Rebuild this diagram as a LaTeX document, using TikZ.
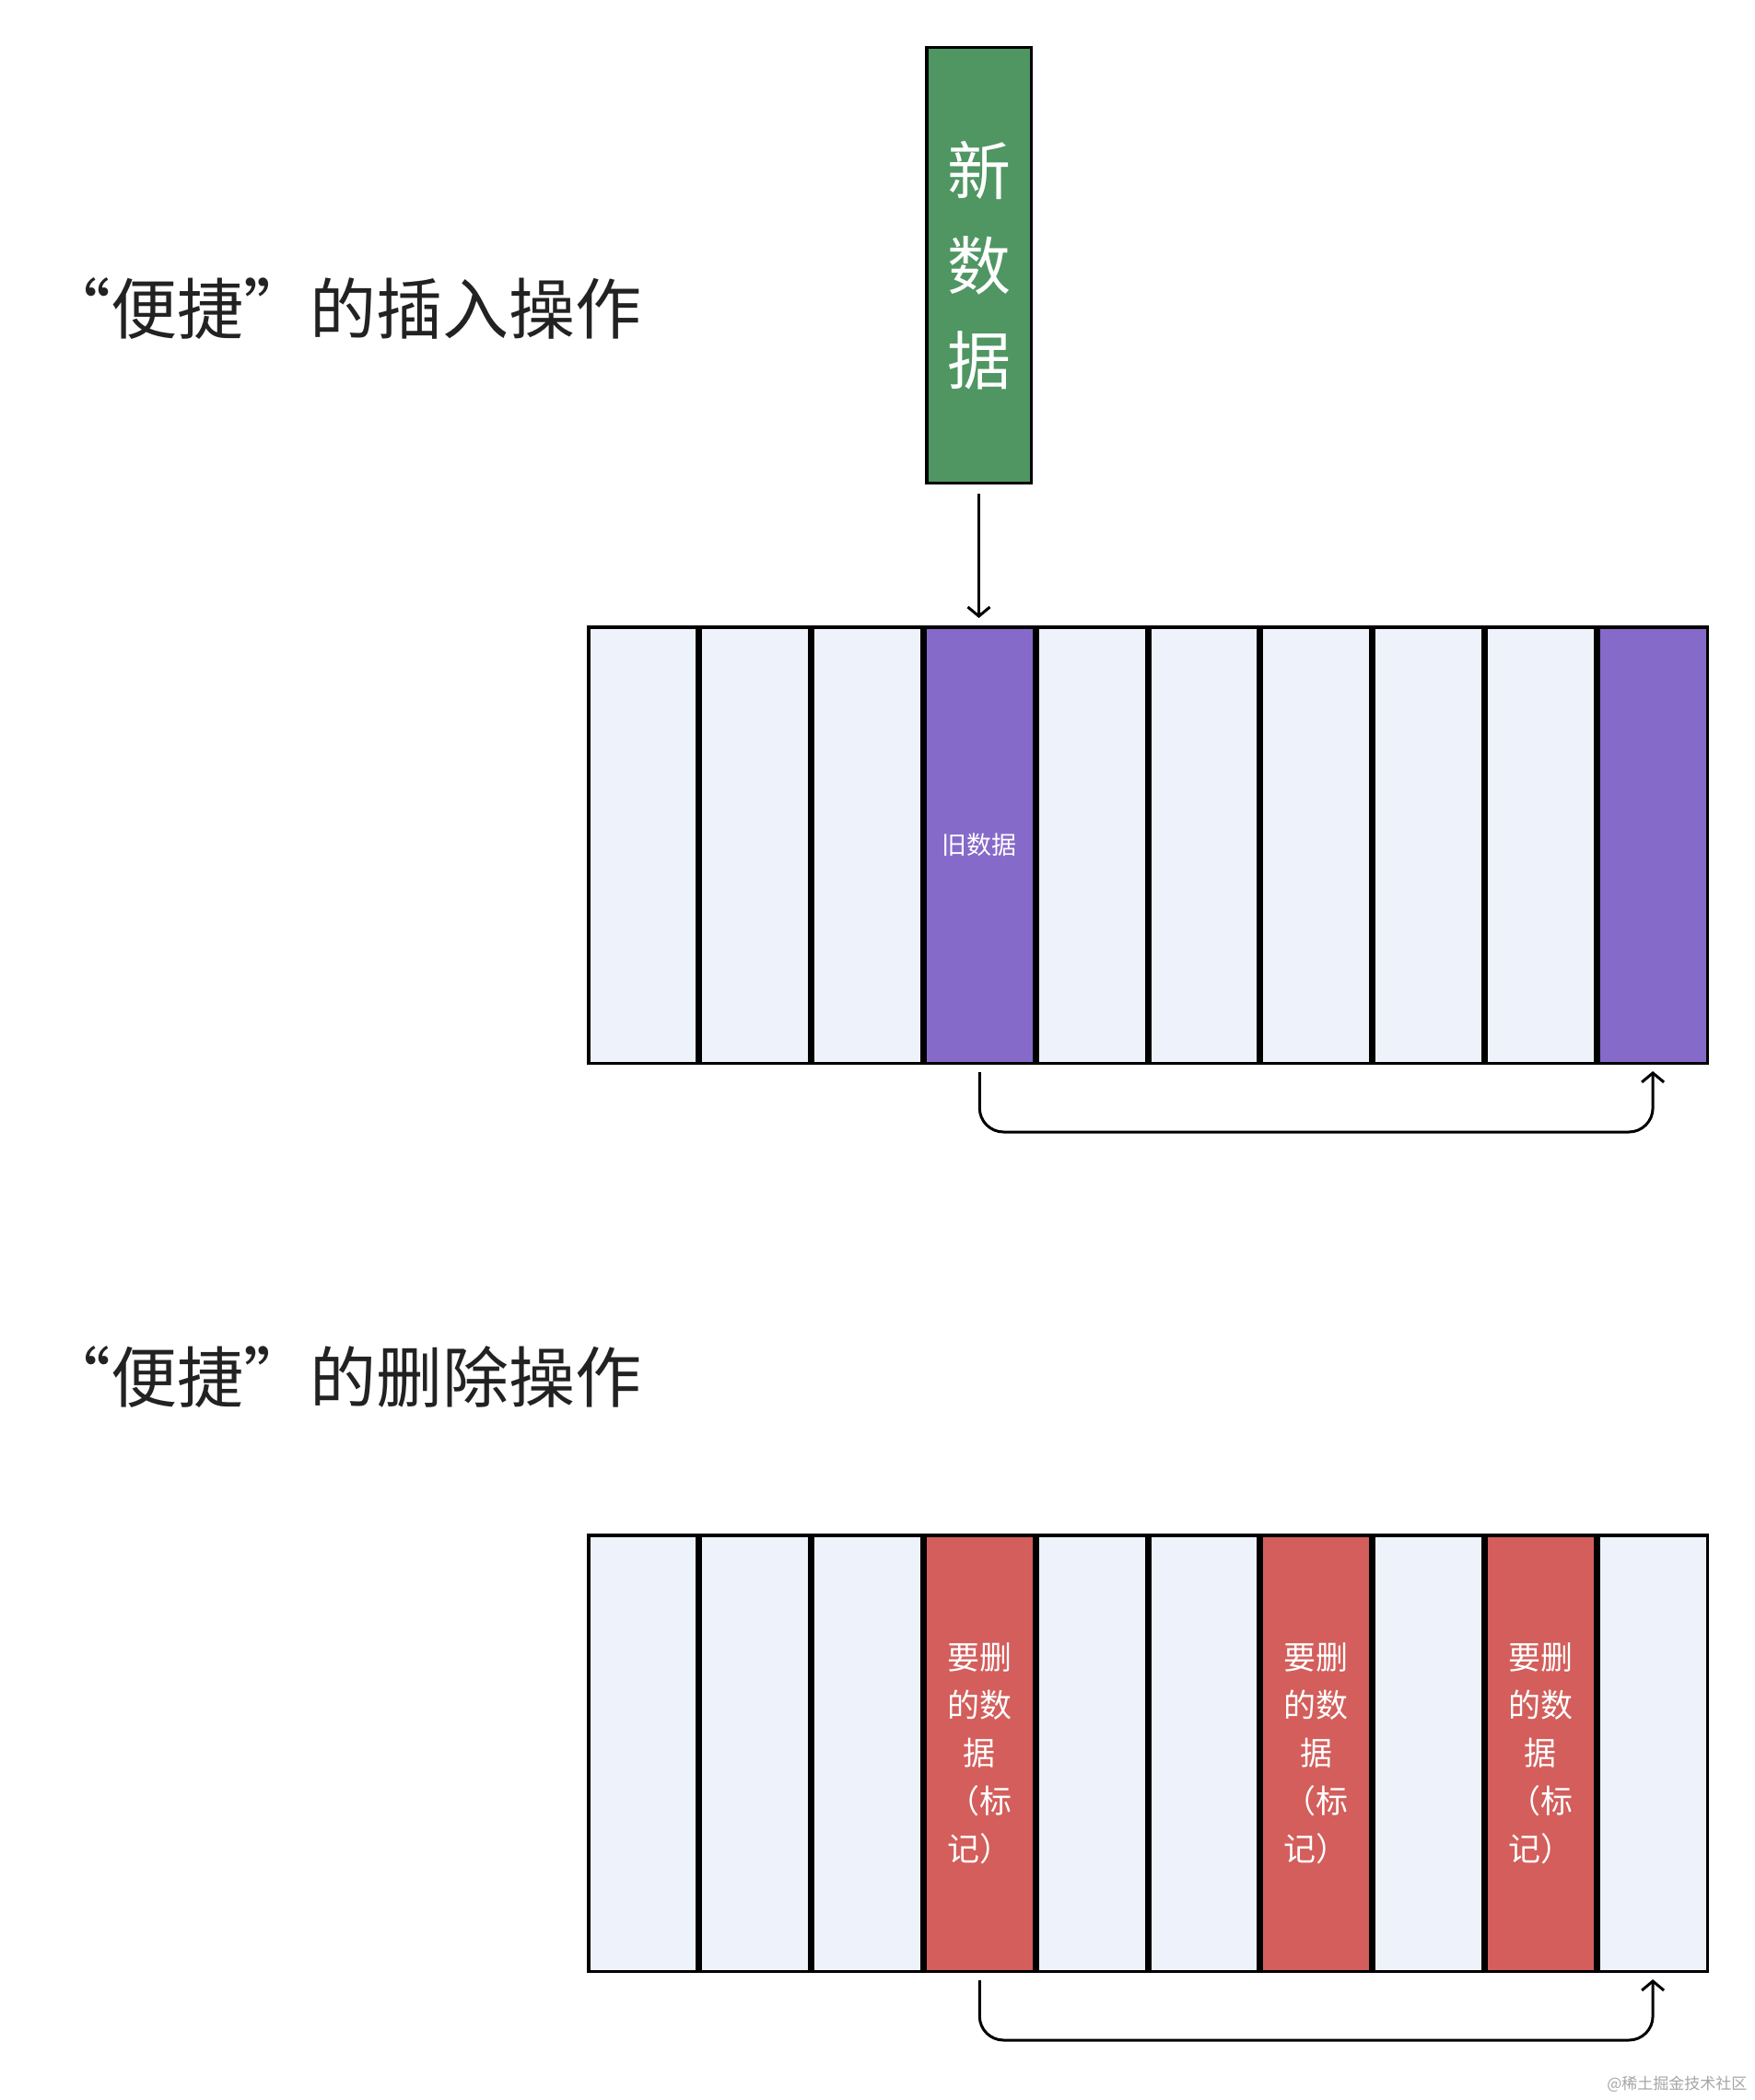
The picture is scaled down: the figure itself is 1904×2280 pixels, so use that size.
\documentclass[tikz,border=0pt]{standalone}
\usepackage{fontspec}
\setmainfont{Noto Sans CJK SC}
\usetikzlibrary{arrows.meta}
\definecolor{cellbg}{HTML}{EEF2FA}
\definecolor{oldpurple}{HTML}{866AC9}
\definecolor{newgreen}{HTML}{4F9662}
\definecolor{delred}{HTML}{D35E5B}
\definecolor{titlegray}{HTML}{222222}
\newcommand{\deltxt}{要删\\的数\\据\\（标\\记）}
\begin{document}
\begin{tikzpicture}[x=1pt,y=-1pt,
  cellbase/.style={draw=black,line width=3.5pt,rectangle,inner sep=0pt,
    minimum width=118.3pt,minimum height=473.5pt,text=white,align=center},
  lightcell/.style={cellbase,fill=cellbg},
  oldcell/.style={cellbase,fill=oldpurple,font=\fontsize{27}{34}\selectfont},
  delcell/.style={cellbase,fill=delred,font=\fontsize{35}{52}\selectfont},
  newbox/.style={draw=black,line width=3.5pt,fill=newgreen,rectangle,inner sep=0pt,
    minimum width=113.5pt,minimum height=472.5pt,text=white,align=center,
    font=\fontsize{69}{103}\selectfont},
  arr/.style={line width=3pt,-{Straight Barb[length=10pt,width=24pt,line width=3pt]}},
  title/.style={anchor=west,text=titlegray,font=\fontsize{72}{80}\selectfont}
]
\useasboundingbox (0,0) rectangle (1904,2280);
\fill[white] (0,0) rectangle (1904,2280);

% titles
\node[title] (t1) at (45,335) {“便捷”的插入操作};
\node[title] (t2) at (45,1495) {“便捷”的删除操作};

% new data box
\node[newbox] (new) at (1062.5,288) {新\\数\\据};

% top array
\foreach \i/\s/\t in {0/lightcell/{},1/lightcell/{},2/lightcell/{},3/oldcell/{旧数据},
  4/lightcell/{},5/lightcell/{},6/lightcell/{},7/lightcell/{},8/lightcell/{},9/oldcell/{}}
  \node[\s] (a\i) at ({637+(\i+0.5)*121.8},917.5) {\t};

% bottom array
\foreach \i/\s/\t in {0/lightcell/{},1/lightcell/{},2/lightcell/{},3/delcell/{\deltxt},
  4/lightcell/{},5/lightcell/{},6/delcell/{\deltxt},7/lightcell/{},8/delcell/{\deltxt},9/lightcell/{}}
  \node[\s] (b\i) at ({637+(\i+0.5)*121.8},1903.5) {\t};

% arrows
\draw[arr,shorten <=10pt,shorten >=8pt] (new.south) -- (new.south |- a3.north);
\draw[arr,rounded corners=26pt,shorten <=8pt,shorten >=7pt] (a3.south) -- ++(0,73) -| (a9.south);
\draw[arr,rounded corners=26pt,shorten <=8pt,shorten >=7pt] (b3.south) -- ++(0,73) -| (b9.south);

% watermark
\node[anchor=east,text=black!35,font=\fontsize{17}{20}\selectfont] (wm) at (1900,2263) {@稀土掘金技术社区};
\end{tikzpicture}
\end{document}
